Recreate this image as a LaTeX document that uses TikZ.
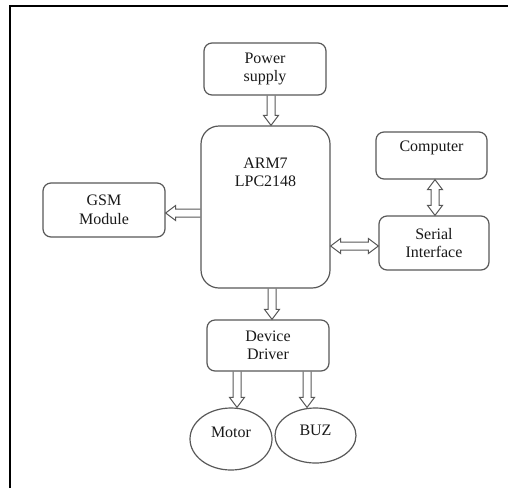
\documentclass[tikz,border=0pt]{standalone}
\usepackage{fontspec}
\setmainfont{Liberation Serif}
\usetikzlibrary{calc,shapes.geometric}
\tikzset{
  box/.style={draw=black!65, line width=1.2pt, rounded corners=8pt, inner sep=0pt},
  oval/.style={draw=black!65, line width=1.2pt, ellipse, inner sep=0pt},
  txt/.style={align=center, text=black!90, font=\fontsize{16}{18.5}\selectfont, inner sep=0pt},
  along/.style={shift={(\p1)}, rotate=\n1},
  hollowarrow/.style={draw=black!65, line width=1pt, to path={
    let \p1=(\tikztostart), \p2=(\tikztotarget),
        \n1={atan2(\y2-\y1,\x2-\x1)}, \n2={veclen(\x2-\x1,\y2-\y1)-10pt} in
    ([along]0pt,4pt) -- ([along]\n2,4pt) -- ([along]\n2,7.5pt) -- (\p2)
    -- ([along]\n2,-7.5pt) -- ([along]\n2,-4pt) -- ([along]0pt,-4pt)}},
  hollowdouble/.style={draw=black!65, line width=1pt, to path={
    let \p1=(\tikztostart), \p2=(\tikztotarget),
        \n1={atan2(\y2-\y1,\x2-\x1)}, \n2={veclen(\x2-\x1,\y2-\y1)-10pt} in
    (\p1) -- ([along]10pt,7.5pt) -- ([along]10pt,4pt) -- ([along]\n2,4pt)
    -- ([along]\n2,7.5pt) -- (\p2) -- ([along]\n2,-7.5pt) -- ([along]\n2,-4pt)
    -- ([along]10pt,-4pt) -- ([along]10pt,-7.5pt) -- cycle}}
}
\begin{document}
\begin{tikzpicture}[x=1pt, y=-1pt]
\useasboundingbox (0,0) rectangle (508,488);
\fill[white] (0,0) rectangle (508,488);
\draw[line width=2.5pt] (10,488) -- (10,6) -- (508,6);

\node[box, minimum width=122pt, minimum height=52pt] (ps) at (265,69) {};
\node[txt] (pst) at (265,69) {Power\\supply};

\node[box, rounded corners=18pt, minimum width=129pt, minimum height=162pt] (arm) at (265.5,207) {};
\node[txt] (armt) at (265.5,172.5) {ARM7\\LPC2148};

\node[box, minimum width=122pt, minimum height=54pt] (gsm) at (104,210) {};
\node[txt] (gsmt) at (104,210) {GSM\\Module};

\node[box, minimum width=111pt, minimum height=47pt] (comp) at (431.5,155.5) {};
\node[txt] (compt) at (431.5,148) {Computer};

\node[box, minimum width=110pt, minimum height=54pt] (ser) at (434,243) {};
\node[txt] (sert) at (434,243) {Serial\\Interface};

\node[box, minimum width=122pt, minimum height=51pt] (dd) at (268,345.5) {};
\node[txt] (ddt) at (268,345.5) {Device\\Driver};

\node[oval, minimum width=82pt, minimum height=62pt] (motor) at (231,439) {};
\node[txt] (motort) at (231,432) {Motor};

\node[oval, minimum width=81pt, minimum height=55pt] (buz) at (315.5,435.5) {};
\node[txt] (buzt) at (315.5,430) {BUZ};

\draw[hollowarrow] ([xshift=6pt]ps.south) to ([xshift=6pt]ps.south |- arm.north);
\draw[hollowarrow] ([xshift=6.5pt]arm.south) to ([xshift=6.5pt]arm.south |- dd.north);
\draw[hollowarrow] ([yshift=-6pt]arm.west) to ([yshift=-6pt]arm.west -| gsm.east);
\draw[hollowdouble] ([yshift=-39pt]arm.east) to ([yshift=-39pt]arm.east -| ser.west);
\draw[hollowdouble] ([xshift=3.5pt]comp.south) to ([xshift=3.5pt]comp.south |- ser.north);
\draw[hollowarrow] ([xshift=-31pt]dd.south) to ([xshift=-31pt]dd.south |- motor.north);
\draw[hollowarrow] ([xshift=39pt]dd.south) to ([xshift=39pt]dd.south |- buz.north);
\end{tikzpicture}
\end{document}
